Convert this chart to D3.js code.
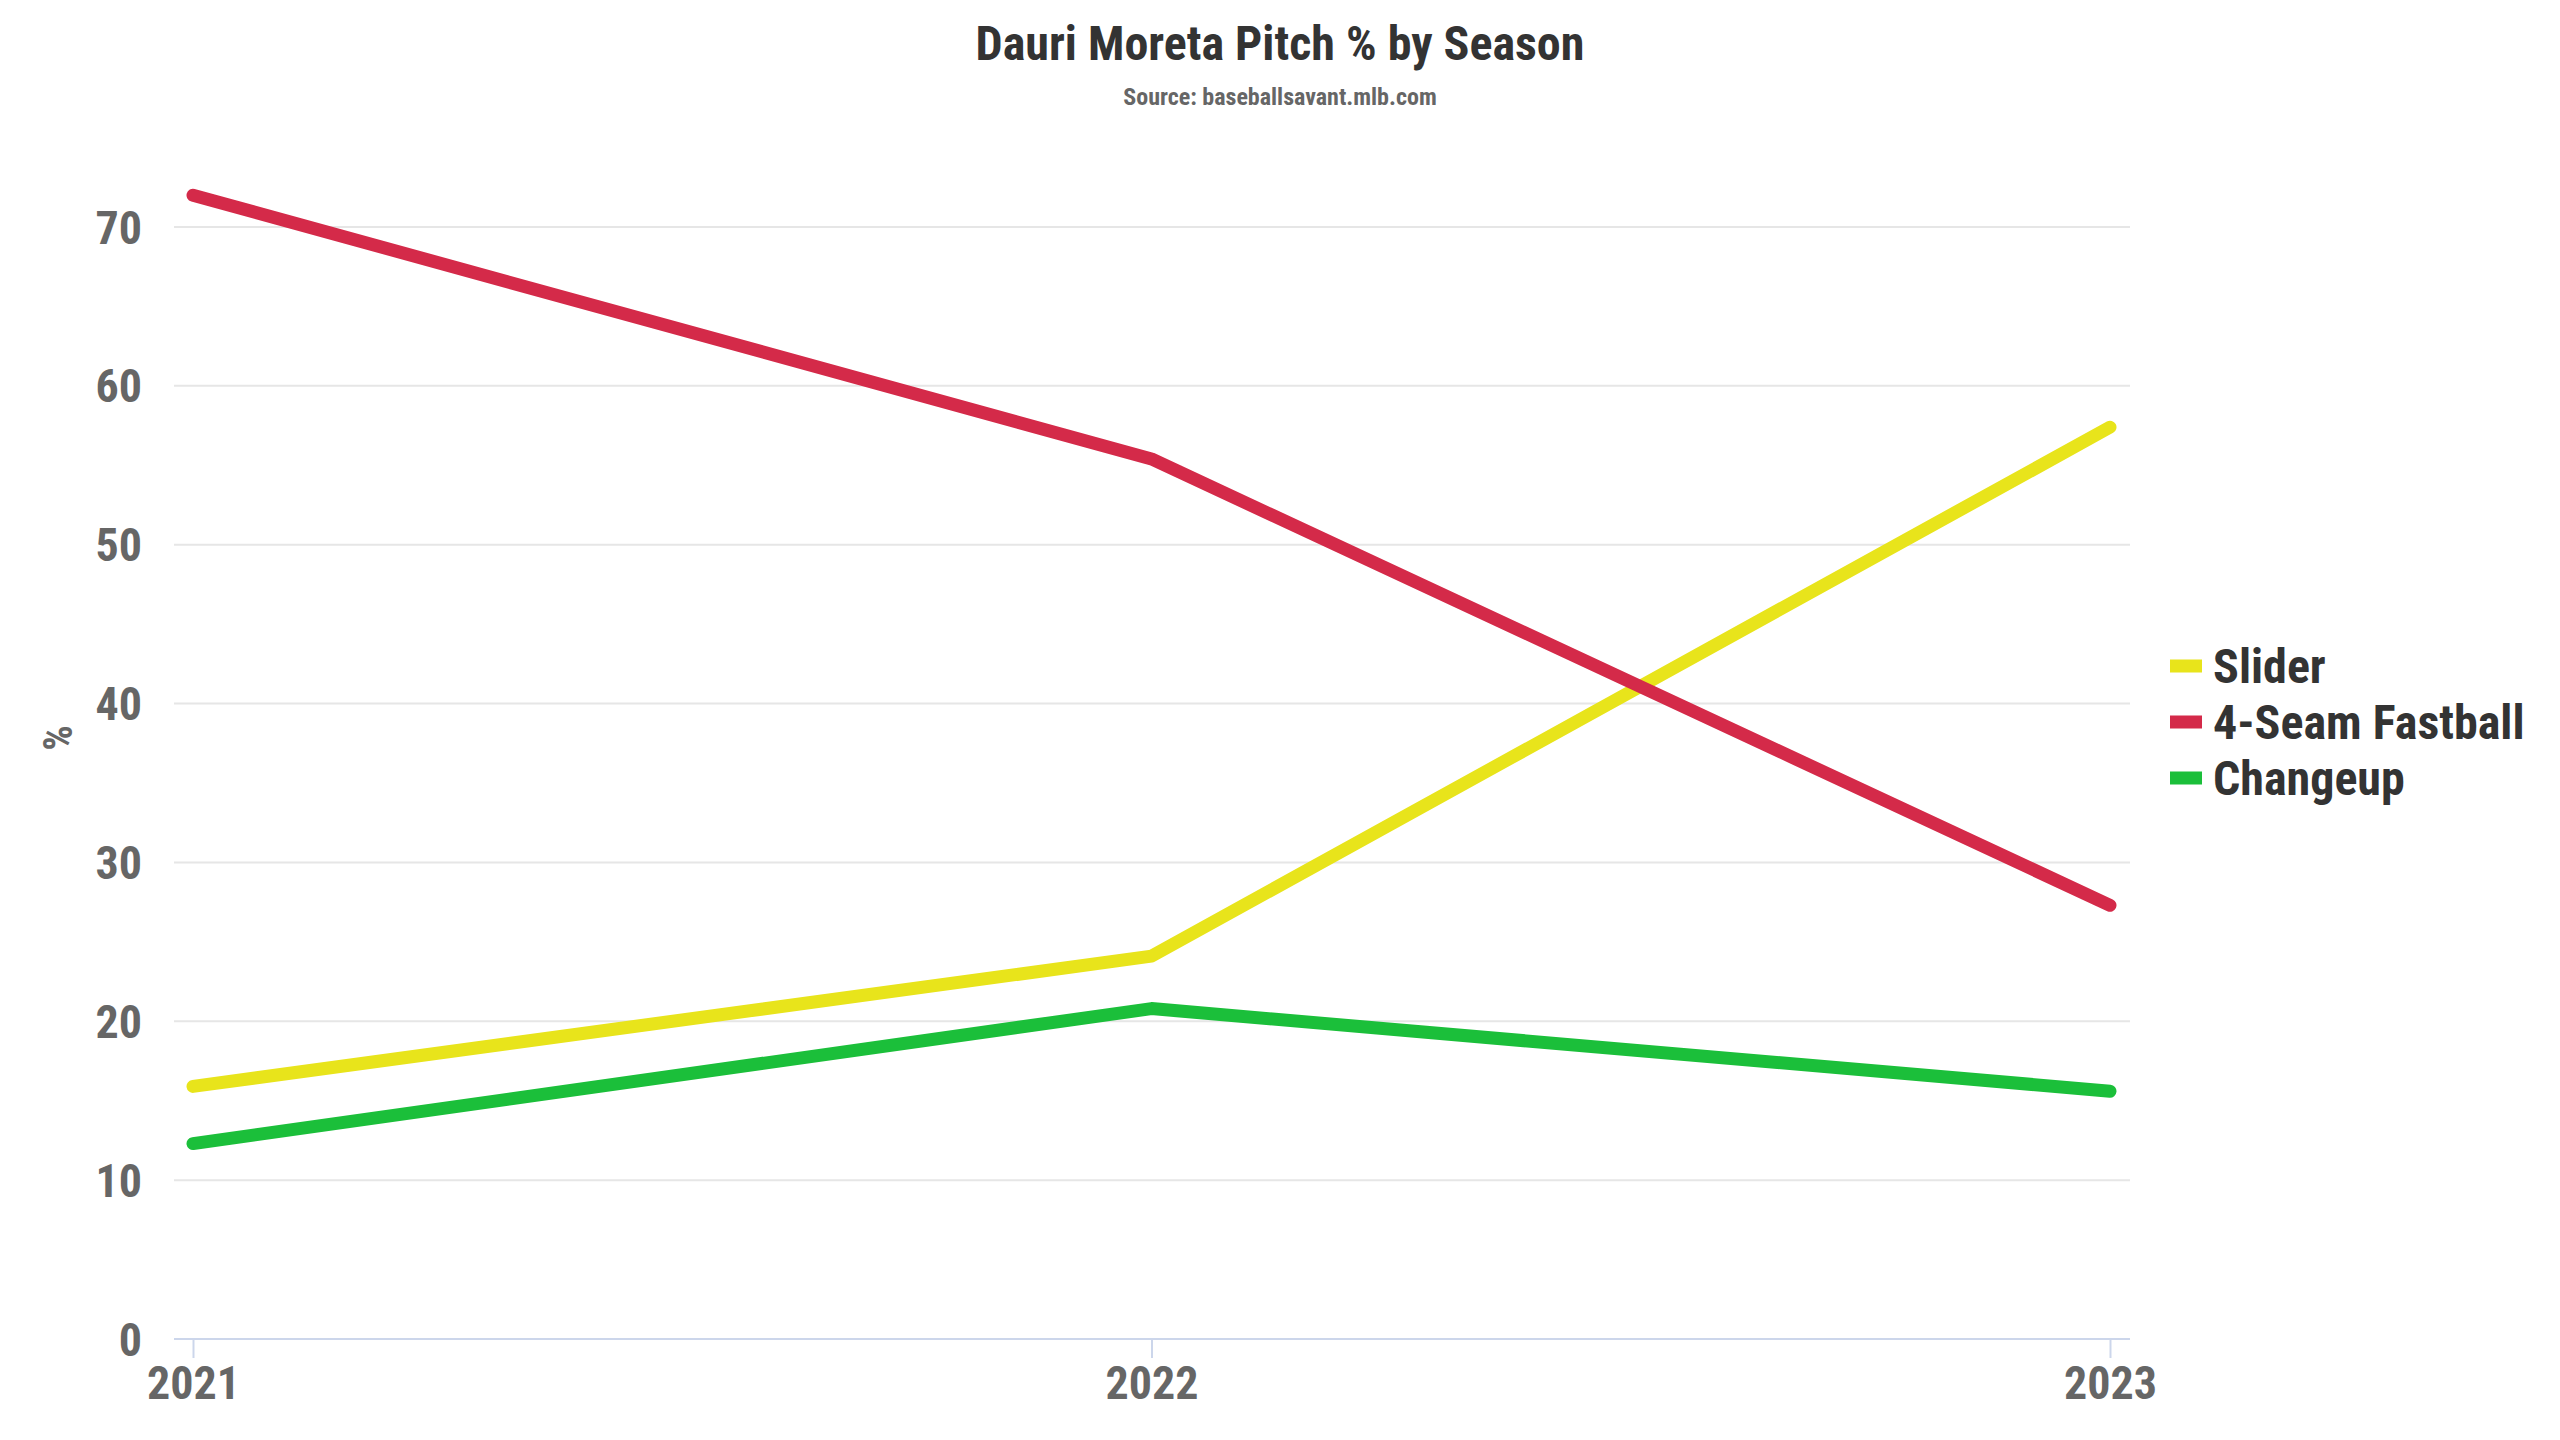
<!DOCTYPE html>
<html>
<head>
<meta charset="utf-8">
<script src="https://cdn.jsdelivr.net/npm/d3@7"></script>
<style>
  body { margin: 0; background: #fff; }
  svg text { font-family: "Roboto Condensed", "Roboto", sans-serif; font-stretch: condensed; font-weight: 700; }
</style>
</head>
<body>
<svg width="2560" height="1440"></svg>
<script>
// **** Data ****
var seasons = ['2021', '2022', '2023'];
var pitchNames = ['Slider', '4-Seam Fastball', 'Changeup'];
var sliderPct = [15.9, 24.1, 57.4];
var fastballPct = [72.0, 55.4, 27.3];
var changeupPct = [12.3, 20.8, 15.6];
var pitchColors = ['#e8e41b', '#d42a49', '#1bbf3a'];
var yTicks = [0, 10, 20, 30, 40, 50, 60, 70];

var seriesValues = [sliderPct, fastballPct, changeupPct];

// **** Scales ****
var xScale = d3.scalePoint()
    .domain(seasons)
    .range([193, 2110]);

var yScale = d3.scaleLinear()
    .domain([0, 70])
    .range([1339, 227]);

var svg = d3.select('svg');

// gridlines
svg.append('g').attr('class', 'grid')
    .selectAll('line')
    .data(yTicks.filter(function(d) { return d > 0; }))
    .enter()
    .append('line')
    .attr('x1', 174).attr('x2', 2130)
    .attr('y1', function(d) { return yScale(d); })
    .attr('y2', function(d) { return yScale(d); })
    .attr('stroke', '#e6e6e6')
    .attr('stroke-width', 2);

// y axis labels
var yAxis = svg.append('g').attr('class', 'y axis')
    .attr('transform', 'translate(174,0)')
    .call(d3.axisLeft(yScale).tickValues(yTicks).tickSize(0).tickPadding(32));
yAxis.select('.domain').remove();
yAxis.selectAll('text')
    .attr('fill', '#666')
    .style('font-size', '46px')
    .attr('dy', '0.35em');

// x axis
svg.append('line')
    .attr('x1', 174).attr('x2', 2130)
    .attr('y1', yScale(0)).attr('y2', yScale(0))
    .attr('stroke', '#ccd6eb')
    .attr('stroke-width', 2);

var xAxis = svg.append('g').attr('class', 'x axis')
    .attr('transform', 'translate(0,' + yScale(0) + ')')
    .call(d3.axisBottom(xScale).tickSize(19).tickPadding(8));
xAxis.select('.domain').remove();
xAxis.selectAll('line').attr('stroke', '#ccd6eb').attr('stroke-width', 2);
xAxis.selectAll('text')
    .attr('fill', '#666')
    .style('font-size', '46px')
    .attr('dy', '0.71em');

// y axis title
svg.append('text')
    .attr('transform', 'translate(58,738) rotate(-90)')
    .attr('dy', '0.35em')
    .style('text-anchor', 'middle')
    .style('font-size', '40px')
    .attr('fill', '#666')
    .text('%');

// **** Lines ****
var line = d3.line()
    .x(function(d, i) { return xScale(seasons[i]); })
    .y(function(d) { return yScale(d); });

svg.append('g').attr('class', 'series')
    .selectAll('path')
    .data(seriesValues)
    .enter()
    .append('path')
    .attr('d', line)
    .attr('fill', 'none')
    .attr('stroke', function(d, i) { return pitchColors[i]; })
    .attr('stroke-width', 13)
    .attr('stroke-linecap', 'round')
    .attr('stroke-linejoin', 'round');

// **** Legend ****
var legend = svg.append('g').attr('class', 'legend')
    .selectAll('g')
    .data(pitchNames)
    .enter()
    .append('g')
    .attr('transform', function(d, i) { return 'translate(2170,' + (666 + i * 56) + ')'; });

legend.append('rect')
    .attr('x', 0).attr('y', -6.5)
    .attr('width', 32).attr('height', 13)
    .attr('fill', function(d, i) { return pitchColors[i]; });

legend.append('text')
    .attr('x', 43)
    .attr('dy', '0.35em')
    .style('font-size', '48px')
    .attr('fill', '#333')
    .text(function(d) { return d; });

// **** Title ****
svg.append('text')
    .attr('x', 1280).attr('y', 60)
    .style('text-anchor', 'middle')
    .style('font-size', '48px')
    .attr('fill', '#333')
    .text('Dauri Moreta Pitch % by Season');

svg.append('text')
    .attr('x', 1280).attr('y', 105)
    .style('text-anchor', 'middle')
    .style('font-size', '24px')
    .attr('fill', '#666')
    .text('Source: baseballsavant.mlb.com');
</script>
</body>
</html>
